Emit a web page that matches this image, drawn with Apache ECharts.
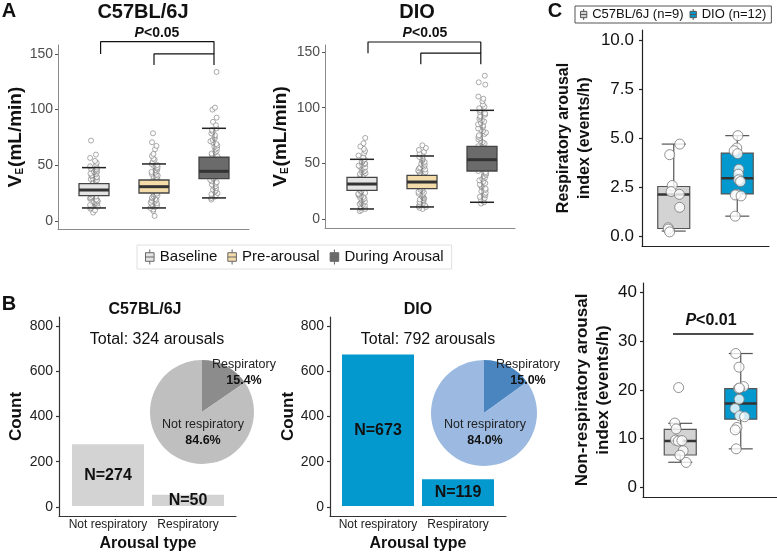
<!DOCTYPE html>
<html><head><meta charset="utf-8">
<script src="https://cdn.jsdelivr.net/npm/echarts@6/dist/echarts.min.js"></script>
<style>html,body{margin:0;padding:0;background:#fff}#c{width:777px;height:553px}</style>
</head><body><div id="c"></div>
<script>
// ---------------- DATA ----------------
// Panel A: minute ventilation (mL/min)
const aGroups = ['Baseline', 'Pre-arousal', 'During Arousal'];
const aYTicks = [0, 50, 100, 150];
// [min, Q1, median, Q3, max]
const c57VEBox = [[11.7, 22.8, 27.8, 33.5, 47.9], [11.7, 25.1, 30.8, 36.8, 51.2], [20.7, 38.0, 44.6, 57.2, 83.2]];
const dioVEBox = [[9.0, 25.7, 31.4, 37.4, 53.6], [10.8, 27.2, 33.2, 39.2, 56.6], [15.0, 43.1, 53.3, 65.3, 97.6]];
const c57BaselinePts = [7.5, 9.6, 11.0, 11.9, 12.8, 13.5, 14.3, 15.1, 15.6, 16.4, 17.2, 17.7, 18.5, 19.3, 19.8, 20.6, 21.3, 21.9, 22.6, 24.0, 25.3, 26.8, 28.1, 29.5, 31.0, 32.4, 33.9, 34.6, 35.2, 36.0, 36.7, 37.5, 38.1, 38.9, 39.6, 40.4, 41.1, 41.9, 42.6, 43.3, 44.1, 44.8, 45.6, 46.3, 47.2, 47.9, 49.1, 50.6, 52.3, 53.9, 56.6, 59.6, 72.2];
const c57PrePts = [4.5, 8.9, 10.3, 11.7, 12.6, 13.4, 14.1, 15.0, 15.8, 16.5, 17.3, 18.2, 18.9, 19.7, 20.4, 21.2, 22.0, 22.9, 23.7, 24.6, 26.2, 28.0, 29.7, 31.5, 33.1, 34.9, 36.4, 37.3, 38.2, 39.0, 39.9, 40.7, 41.6, 42.4, 43.3, 44.1, 45.0, 45.8, 46.7, 47.6, 48.5, 49.4, 50.3, 51.2, 53.1, 55.0, 56.0, 58.4, 60.2, 64.4, 67.4, 70.7, 78.7];
const c57DuringPts = [19.2, 20.7, 21.8, 22.9, 24.1, 25.0, 26.2, 27.3, 28.1, 29.4, 30.5, 31.3, 32.6, 33.5, 34.8, 35.7, 36.9, 38.2, 40.5, 43.0, 45.6, 48.3, 51.0, 53.7, 56.4, 58.1, 59.3, 60.6, 61.8, 62.9, 64.2, 65.5, 66.7, 67.8, 69.1, 70.4, 71.6, 72.8, 74.1, 75.5, 77.0, 78.6, 80.3, 81.8, 83.2, 86.0, 89.0, 92.8, 100.0, 101.8, 133.8];
const dioBaselinePts = [7.0, 8.1, 9.0, 9.8, 10.5, 11.3, 12.0, 12.8, 13.5, 14.1, 14.9, 15.6, 16.2, 17.0, 17.7, 18.3, 19.1, 19.8, 20.5, 21.2, 22.0, 22.7, 23.4, 24.2, 25.0, 26.5, 28.2, 30.0, 31.7, 33.5, 35.2, 37.0, 38.1, 38.9, 39.6, 40.4, 41.1, 41.9, 42.6, 43.4, 44.1, 44.9, 45.6, 46.4, 47.1, 47.9, 48.6, 49.4, 50.1, 50.9, 51.7, 52.6, 53.6, 55.5, 57.0, 59.0, 61.1, 63.0, 65.2, 68.0, 72.8];
const dioPrePts = [9.0, 10.1, 10.8, 11.6, 12.3, 13.1, 13.8, 14.6, 15.3, 16.0, 16.8, 17.5, 18.3, 19.0, 19.8, 20.5, 21.3, 22.0, 22.8, 23.6, 24.4, 25.3, 26.2, 27.2, 29.1, 31.2, 33.3, 35.4, 37.5, 39.4, 40.3, 41.1, 42.0, 42.8, 43.7, 44.5, 45.4, 46.2, 47.1, 47.9, 48.8, 49.6, 50.5, 51.3, 52.2, 53.0, 53.9, 54.8, 55.7, 56.6, 58.5, 60.3, 62.0, 63.8, 66.2];
const dioDuringPts = [13.8, 15.0, 16.2, 17.5, 18.7, 19.9, 21.2, 22.4, 23.6, 24.9, 26.1, 27.3, 28.6, 29.8, 31.0, 32.3, 33.5, 34.7, 36.0, 37.2, 38.4, 39.7, 40.9, 42.1, 43.1, 46.0, 49.5, 53.0, 56.5, 60.0, 63.5, 65.3, 66.5, 67.8, 69.0, 70.2, 71.5, 72.7, 73.9, 75.2, 76.4, 77.6, 78.9, 80.1, 81.3, 82.6, 83.8, 85.0, 86.3, 87.5, 88.7, 90.0, 91.2, 92.4, 93.7, 94.9, 96.2, 97.6, 99.5, 100.8, 102.7, 105.7, 108.0, 110.0, 120.7, 122.8, 128.7];
// significance brackets (x in category units, y in mL/min)
const c57BracketX = [0.11, 1.0, 2.0];
const c57BracketY = [140, 150, 161];
const dioBracketX = [0.1, 0.98, 1.98];
const dioBracketY = [139, 149, 159];

// Panel B: arousal counts
const bCategories = ['Not respiratory', 'Respiratory'];
const bYTicks = [0, 200, 400, 600, 800];
const c57Counts = [274, 50];
const dioCounts = [673, 119];
const c57Total = 324;
const dioTotal = 792;
const c57Pct = ['84.6%', '15.4%'];
const dioPct = ['84.0%', '15.0%'];

// Panel C: arousal indices (events/h)
const cGroups = ['C57BL/6J (n=9)', 'DIO (n=12)'];
const respTicks = [0, 2.5, 5, 7.5, 10];
const nonRespTicks = [0, 10, 20, 30, 40];
const respBox = [[0.26, 0.39, 2.12, 2.53, 4.69], [1.02, 2.15, 2.95, 4.23, 5.12]];
const respPts = [[4.69, 4.15, 2.58, 2.27, 2.13, 1.47, 0.43, 0.36, 0.22],
                 [5.12, 4.49, 4.35, 4.2, 3.41, 3.16, 2.87, 2.78, 2.13, 2.1, 2.05, 1.02]];
const nonRespBox = [[5.14, 6.64, 9.5, 11.9, 13.15], [7.9, 14.0, 17.2, 20.3, 27.5]];
const nonRespPts = [[20.5, 13.2, 12.0, 9.7, 9.5, 9.6, 7.5, 6.6, 5.1],
                    [27.5, 24.7, 20.7, 20.3, 20.4, 18.1, 16.2, 14.7, 14.5, 12.3, 11.8, 7.9]];
const nonRespSigY = 31.5;
const nonRespSigX = [-0.12, 1.21];

// ---------------- STYLE ----------------
const FF = '"Liberation Sans", Arial, sans-serif';
const aColors = ['#e4e4e4', '#f3dcaa', '#6b6b6b'];
const cColors = ['#d3d3d3', '#0399cf'];
const boxIcon = 'path://M4,0 L4,3 M0,3 L8,3 L8,11 L0,11 Z M0,7 L8,7 M4,11 L4,14';

function makeBox(st) {
  return function (params, api) {
    const c = api.value(0);
    const pt = k => api.coord([c, api.value(k)]);
    const lo = pt(1), q1 = pt(2), md = pt(3), q3 = pt(4), hi = pt(5);
    const x = lo[0], hb = st.boxW / 2, hc = st.capW / 2;
    const ws = { stroke: st.whisker, lineWidth: st.wLw };
    const cs = { stroke: st.cap, lineWidth: st.capLw };
    return { type: 'group', children: [
      { type: 'line', shape: { x1: x, y1: lo[1], x2: x, y2: q1[1] }, style: ws },
      { type: 'line', shape: { x1: x, y1: q3[1], x2: x, y2: hi[1] }, style: ws },
      { type: 'line', shape: { x1: x - hc, y1: lo[1], x2: x + hc, y2: lo[1] }, style: cs },
      { type: 'line', shape: { x1: x - hc, y1: hi[1], x2: x + hc, y2: hi[1] }, style: cs },
      { type: 'rect', shape: { x: x - hb, y: q3[1], width: st.boxW, height: q1[1] - q3[1] },
        style: { fill: api.visual('color'), stroke: st.boxStroke, lineWidth: st.boxLw } },
      { type: 'line', shape: { x1: x - hb, y1: md[1], x2: x + hb, y2: md[1] }, style: { stroke: st.med, lineWidth: st.medLw } }
    ] };
  };
}
const aBoxStyle = { boxW: 30, capW: 24, whisker: '#666', wLw: 0.8, cap: '#222', capLw: 1.5, boxStroke: '#444', boxLw: 1.3, med: '#333', medLw: 3 };
const cBoxStyle = { boxW: 32, capW: 24, whisker: '#555', wLw: 1.2, cap: '#555', capLw: 1.2, boxStroke: '#555', boxLw: 1.2, med: '#333', medLw: 2.5 };

function xFrame(gi, color, w) {
  return { type: 'value', gridIndex: gi, min: 0, max: 1,
    axisLine: { show: true, onZero: false, lineStyle: { color: color, width: w } },
    axisTick: { show: false }, axisLabel: { show: false }, splitLine: { show: false } };
}
function xHiddenVal(gi, min, max) {
  return { type: 'value', gridIndex: gi, min: min, max: max, show: false, splitLine: { show: false } };
}
function xCat(gi, data, jitter) {
  return { type: 'category', gridIndex: gi, data: data, jitter: jitter, jitterOverlap: true,
    axisLine: { show: false }, axisTick: { show: false }, axisLabel: { show: false }, splitLine: { show: false } };
}
function yFrame(gi, min, max, ticks, o) {
  return { type: 'value', gridIndex: gi, min: min, max: max,
    axisLine: { show: true, onZero: false, lineStyle: { color: o.line, width: o.lw } },
    axisTick: { show: true, length: 3, customValues: ticks, lineStyle: { color: o.tick, width: o.lw } },
    axisLabel: { customValues: ticks, fontSize: o.fs, color: o.lab, margin: o.margin, fontFamily: FF, formatter: o.fmt },
    splitLine: { show: false },
    name: o.name, nameLocation: 'middle', nameRotate: 90, nameGap: o.gap, nameTextStyle: o.nts };
}
function yHidden(gi, min, max) {
  return { type: 'value', gridIndex: gi, min: min, max: max, show: false, splitLine: { show: false } };
}

const veName = '{v|V}{e|E}{u|(mL/min)}';
const veNameStyle = { fontFamily: FF, color: '#111', rich: {
  v: { fontSize: 19, fontWeight: 'bold', fontFamily: FF, color: '#111' },
  e: { fontSize: 10, fontWeight: 'bold', fontFamily: FF, color: '#111', verticalAlign: 'bottom', padding: [7, 1, 0, 0] },
  u: { fontSize: 19, fontWeight: 'bold', fontFamily: FF, color: '#111' } } };
const aY = { line: '#8a8a8a', tick: '#555', lw: 1, fs: 14, lab: '#4d4d4d', margin: 5, name: veName, nts: veNameStyle };
const bYnts = { fontSize: 17, fontWeight: 'bold', color: '#111', fontFamily: FF };
const bY = { line: '#333', tick: '#333', lw: 1.2, fs: 14, lab: '#222', margin: 6, name: 'Count', nts: bYnts };

// ---------------- GRIDS ----------------
const grid = [
  { left: 58, top: 45, width: 191, height: 184 },   // 0 A1 frame
  { left: 64, top: 45, width: 180, height: 184 },   // 1 A1 data
  { left: 325, top: 45, width: 190, height: 183 },  // 2 A2 frame
  { left: 332, top: 45, width: 180, height: 183 },  // 3 A2 data
  { left: 59, top: 317, width: 177, height: 199 },  // 4 B1 frame
  { left: 68, top: 317, width: 160, height: 199 },  // 5 B1 data
  { left: 330, top: 317, width: 176, height: 199 }, // 6 B2 frame
  { left: 338, top: 317, width: 160, height: 199 }, // 7 B2 data
  { left: 642, top: 30, width: 127, height: 216 },  // 8 C1
  { left: 643, top: 283, width: 134, height: 214 }, // 9 C2 frame
  { left: 650, top: 283, width: 121, height: 214 }  // 10 C2 data
];

const bCatAxis = gi => ({ type: 'category', gridIndex: gi, data: bCategories,
  axisLine: { show: false }, axisTick: { show: false },
  axisLabel: { interval: 0, hideOverlap: false, fontSize: 12, color: '#222', margin: 4, fontFamily: FF },
  name: 'Arousal type', nameLocation: 'middle', nameGap: 21,
  nameTextStyle: { fontSize: 16, fontWeight: 'bold', color: '#111', fontFamily: FF } });

const xAxis = [
  xFrame(0, '#8a8a8a', 1),              // 0
  xCat(1, aGroups, 8),                  // 1
  xHiddenVal(1, -0.5, 2.5),             // 2
  xFrame(2, '#8a8a8a', 1),              // 3
  xCat(3, aGroups, 8),                  // 4
  xHiddenVal(3, -0.5, 2.5),             // 5
  xFrame(4, '#333', 1.2),               // 6
  bCatAxis(5),                          // 7
  xFrame(6, '#333', 1.2),               // 8
  bCatAxis(7),                          // 9
  Object.assign(xCat(8, cGroups, 12), { axisLine: { show: true, onZero: false, lineStyle: { color: '#222', width: 1.2 } } }), // 10
  xFrame(9, '#222', 1.2),               // 11
  xCat(10, cGroups, 12),                // 12
  xHiddenVal(10, -0.5, 1.5)             // 13
];

const yAxis = [
  yFrame(0, -7.2, 158, aYTicks, Object.assign({ gap: 29 }, aY)),  // 0
  yHidden(1, -7.2, 158),                                            // 1
  yFrame(2, -8.1, 156.3, aYTicks, Object.assign({ gap: 35 }, aY)), // 2
  yHidden(3, -8.1, 156.3),                                          // 3
  yFrame(4, -40, 840, bYTicks, Object.assign({ gap: 34 }, bY)),    // 4
  yHidden(5, -40, 840),                                             // 5
  yFrame(6, -40, 840, bYTicks, Object.assign({ gap: 33 }, bY)),    // 6
  yHidden(7, -40, 840),                                             // 7
  yFrame(8, -0.5, 10.5, respTicks, { line: '#222', tick: '#222', lw: 1.2, fs: 17, lab: '#111', margin: 8,
    fmt: v => Number(v).toFixed(1), name: 'Respiratory arousal\nindex (events/h)', gap: 47,
    nts: { fontSize: 16, fontWeight: 'bold', color: '#111', lineHeight: 21, fontFamily: FF } }), // 8
  yFrame(9, -2, 42, nonRespTicks, { line: '#222', tick: '#222', lw: 1.2, fs: 17, lab: '#111', margin: 6,
    name: 'Non-respiratory arousal\nindex (events/h)', gap: 28,
    nts: { fontSize: 17, fontWeight: 'bold', color: '#111', lineHeight: 21, fontFamily: FF } }), // 9
  yHidden(10, -2, 42)                                               // 10
];

// ---------------- SERIES ----------------
const series = [];
function aPanel(xi, yi, boxes, ptsList) {
  ptsList.forEach((pts, g) => series.push({ type: 'scatter', xAxisIndex: xi, yAxisIndex: yi, silent: true,
    data: pts.map(v => [g, v]), symbolSize: 5, z: 2,
    itemStyle: { color: '#fff', borderColor: '#7a7a7a', borderWidth: 0.8 } }));
  boxes.forEach((b, g) => series.push({ type: 'custom', name: aGroups[g], xAxisIndex: xi, yAxisIndex: yi, z: 3,
    data: [[g].concat(b)], encode: { x: 0, y: [1, 2, 3, 4, 5] }, itemStyle: { color: aColors[g] },
    renderItem: makeBox(aBoxStyle) }));
}
aPanel(1, 1, c57VEBox, [c57BaselinePts, c57PrePts, c57DuringPts]);
aPanel(4, 3, dioVEBox, [dioBaselinePts, dioPrePts, dioDuringPts]);

function bracket(xi, yi, bx, by) {
  const ls = { color: '#111', width: 1.2 };
  series.push({ type: 'line', xAxisIndex: xi, yAxisIndex: yi, clip: false, symbol: 'none', silent: true, z: 4, lineStyle: ls,
    data: [[bx[0], by[1]], [bx[0], by[2]], [bx[2], by[2]], [bx[2], by[1]]] });
  series.push({ type: 'line', xAxisIndex: xi, yAxisIndex: yi, clip: false, symbol: 'none', silent: true, z: 4, lineStyle: ls,
    data: [[bx[1], by[0]], [bx[1], by[1]], [bx[2], by[1]], [bx[2], by[0]]] });
}
bracket(2, 1, c57BracketX, c57BracketY);
bracket(5, 3, dioBracketX, dioBracketY);

function bPanel(xi, yi, counts, color, pct, center, radius, cols, offs) {
  series.push({ type: 'bar', xAxisIndex: xi, yAxisIndex: yi, data: counts, barWidth: '90%', silent: true,
    itemStyle: { color: color },
    label: { show: true, position: 'inside', formatter: p => 'N=' + p.value, fontSize: 16, fontWeight: 'bold', color: '#111', fontFamily: FF } });
  series.push({ type: 'pie', center: center, radius: radius, startAngle: 90, clockwise: true, silent: true, z: 5,
    data: [
      { name: bCategories[1], value: counts[1], pct: pct[1], itemStyle: { color: cols[1] } },
      { name: bCategories[0], value: counts[0], pct: pct[0], itemStyle: { color: cols[0] } }
    ],
    itemStyle: { borderWidth: 0 },
    label: { show: true, position: 'inside', fontFamily: FF,
      formatter: p => '{n|' + p.name + '}\n{p|' + p.data.pct + '}',
      rich: { n: { fontSize: 12.5, color: '#222', fontFamily: FF, lineHeight: 16 },
              p: { fontSize: 12.5, color: '#111', fontWeight: 'bold', fontFamily: FF, lineHeight: 16 } } },
    labelLine: { show: false },
    labelLayout: p => ({ x: center[0] + offs[p.dataIndex][0], y: center[1] + offs[p.dataIndex][1], align: 'center', verticalAlign: 'middle' })
  });
}
bPanel(7, 5, c57Counts, '#d3d3d3', c57Pct, [202, 412], 52, ['#bfbfbf', '#8c8c8c'], [[42, -39], [1, 21]]);
bPanel(9, 7, dioCounts, '#0399cf', dioPct, [484, 413], 53, ['#9bb9e1', '#4a85c0'], [[44, -40], [1, 20]]);

function cPanel(xi, yi, boxes, ptsList) {
  boxes.forEach((b, g) => series.push({ type: 'custom', name: cGroups[g], xAxisIndex: xi, yAxisIndex: yi, z: 2,
    data: [[g].concat(b)], encode: { x: 0, y: [1, 2, 3, 4, 5] }, itemStyle: { color: cColors[g] },
    renderItem: makeBox(cBoxStyle) }));
  ptsList.forEach((pts, g) => series.push({ type: 'scatter', xAxisIndex: xi, yAxisIndex: yi, silent: true, z: 3,
    data: pts.map(v => [g, v]), symbolSize: 10,
    itemStyle: { color: '#fff', borderColor: '#777', borderWidth: 1 } }));
}
cPanel(10, 8, respBox, respPts);
cPanel(12, 10, nonRespBox, nonRespPts);
series.push({ type: 'line', xAxisIndex: 13, yAxisIndex: 10, clip: false, symbol: 'none', silent: true,
  lineStyle: { color: '#111', width: 1.5 },
  data: [[nonRespSigX[0], nonRespSigY], [nonRespSigX[1], nonRespSigY]] });

// ---------------- TEXT ----------------
function txt(x, y, text, size, bold, extra) {
  return Object.assign({ type: 'text', x: x, y: y, silent: true, z: 10,
    style: Object.assign({ text: text, fontSize: size, fontWeight: bold ? 'bold' : 'normal', fontFamily: FF,
      fill: '#111', align: 'center', verticalAlign: 'middle' }, extra || {}) });
}
const pRich = s => ({ rich: {
  i: { fontSize: s, fontWeight: 'bold', fontStyle: 'italic', fontFamily: FF, fill: '#111' },
  b: { fontSize: s, fontWeight: 'bold', fontFamily: FF, fill: '#111' } } });
const graphic = [
  txt(9, 11, 'A', 20, true),
  txt(143, 12, 'C57BL/6J', 20, true),
  txt(417, 12, 'DIO', 20, true),
  txt(157, 33, '{i|P}{b|<0.05}', 14, true, pRich(14)),
  txt(425, 33, '{i|P}{b|<0.05}', 14, true, pRich(14)),
  txt(9, 304, 'B', 20, true),
  txt(145, 310, 'C57BL/6J', 16, true),
  txt(418, 310, 'DIO', 16, true),
  txt(157, 340, 'Total: ' + c57Total + ' arousals', 16, false),
  txt(428, 340, 'Total: ' + dioTotal + ' arousals', 16, false),
  txt(555, 11, 'C', 20, true),
  txt(711, 321, '{i|P}{b|<0.01}', 16, true, pRich(16))
];

const option = {
  animation: false,
  textStyle: { fontFamily: FF },
  grid: grid, xAxis: xAxis, yAxis: yAxis, series: series, graphic: graphic,
  legend: [
    { data: aGroups, left: 137, top: 245, icon: boxIcon, itemWidth: 10, itemHeight: 15, itemGap: 10,
      textStyle: { fontSize: 15, color: '#111', fontFamily: FF }, borderColor: '#e0e0e0', borderWidth: 1, padding: [4, 8],
      itemStyle: { borderColor: '#666', borderWidth: 1 }, selectedMode: false },
    { data: cGroups, left: 575, top: 6, icon: boxIcon, itemWidth: 7, itemHeight: 11, itemGap: 6,
      textStyle: { fontSize: 13, color: '#111', fontFamily: FF }, borderColor: '#555', borderWidth: 1, padding: [2, 5],
      itemStyle: { borderColor: '#555', borderWidth: 1 }, selectedMode: false }
  ]
};
echarts.init(document.getElementById('c')).setOption(option);
</script></body></html>
